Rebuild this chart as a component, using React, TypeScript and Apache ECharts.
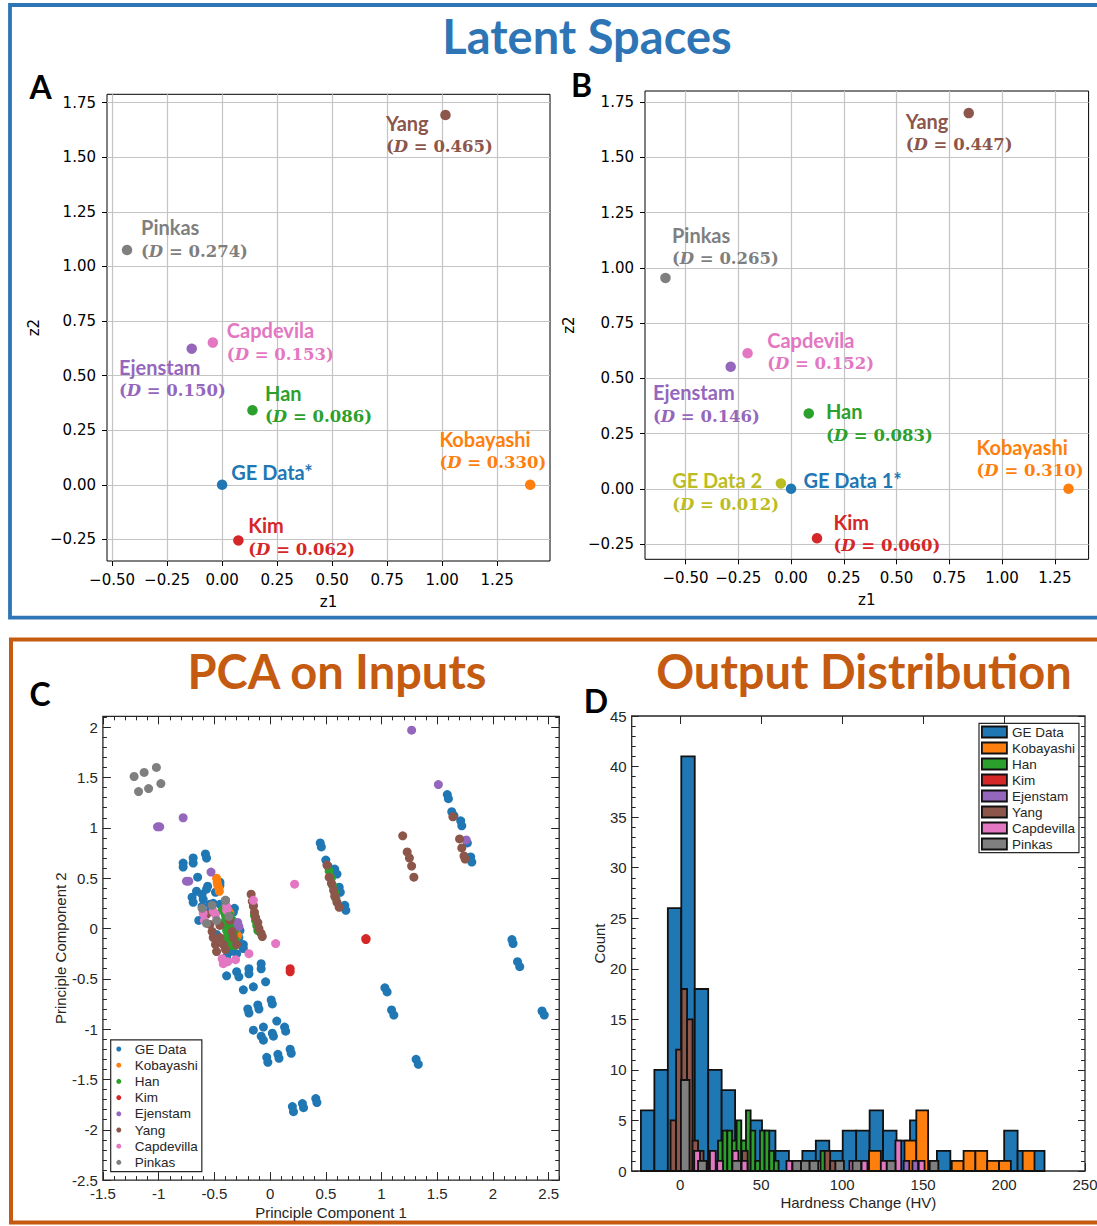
import React, { useEffect, useRef } from 'react';
import * as echarts from 'echarts';

// ---------------- Panel A / B : latent spaces ----------------
const latentNamesA = ['GE Data*', 'Kobayashi', 'Han', 'Kim', 'Ejenstam', 'Yang', 'Capdevila', 'Pinkas'];
const latentZ1A = [0.0, 1.4, 0.138, 0.074, -0.138, 1.015, -0.042, -0.432];
const latentZ2A = [0.0, 0.0, 0.341, -0.255, 0.623, 1.693, 0.651, 1.075];
const latentDistA: (number | null)[] = [null, 0.33, 0.086, 0.062, 0.15, 0.465, 0.153, 0.274];

const latentNamesB = ['GE Data 1*', 'GE Data 2', 'Kobayashi', 'Han', 'Kim', 'Ejenstam', 'Yang', 'Capdevila', 'Pinkas'];
const latentZ1B = [0.0, -0.048, 1.315, 0.084, 0.123, -0.286, 0.842, -0.206, -0.595];
const latentZ2B = [0.0, 0.024, 0.0, 0.341, -0.224, 0.552, 1.7, 0.613, 0.954];
const latentDistB: (number | null)[] = [null, 0.012, 0.31, 0.083, 0.06, 0.146, 0.447, 0.152, 0.265];

const latentTicksX = [-0.5, -0.25, 0, 0.25, 0.5, 0.75, 1, 1.25];
const latentTicksY = [-0.25, 0, 0.25, 0.5, 0.75, 1, 1.25, 1.5, 1.75];

// ---------------- Panel C : PCA on inputs ----------------
const pcaNames = ['GE Data', 'Kobayashi', 'Han', 'Kim', 'Ejenstam', 'Yang', 'Capdevilla', 'Pinkas'];
const pcaGE = [
  [-0.78, 0.65], [-0.78, 0.61], [-0.69, 0.7], [-0.69, 0.65], [-0.58, 0.74], [-0.57, 0.7], [-0.65, 0.51],
  [-0.7, 0.31], [-0.69, 0.26], [-0.66, 0.37], [-0.61, 0.34], [-0.6, 0.29], [-0.56, 0.42], [-0.57, 0.39],
  [-0.49, 0.36], [-0.45, 0.46], [-0.45, 0.43], [-0.4, 0.28], [-0.32, 0.2], [-0.33, 0.16], [-0.64, 0.08],
  [-0.61, 0.22], [-0.51, 0.25], [-0.53, 0.18], [-0.24, -0.16], [-0.24, -0.2], [-0.27, -0.02], [-0.39, -0.47],
  [-0.3, -0.43], [-0.28, -0.48], [-0.19, -0.4], [-0.19, -0.45], [-0.08, -0.35], [-0.08, -0.4], [-0.04, -0.53],
  [-0.24, -0.61], [-0.15, -0.58], [-0.2, -0.8], [-0.19, -0.84], [-0.11, -0.76], [-0.1, -0.8], [0.01, -0.71],
  [0.02, -0.75], [-0.15, -1.01], [-0.06, -0.98], [-0.08, -1.07], [-0.06, -1.11], [0.02, -1.04], [0.03, -1.07],
  [0.06, -0.92], [0.13, -0.98], [0.14, -1.02], [-0.03, -1.28], [-0.02, -1.33], [0.07, -1.25], [0.08, -1.29],
  [0.18, -1.2], [0.19, -1.24], [0.2, -1.77], [0.21, -1.82], [0.29, -1.74], [0.3, -1.78], [0.41, -1.69], [0.42, -1.73],
  [0.45, 0.85], [0.46, 0.81], [0.5, 0.68], [0.52, 0.62], [0.58, 0.59], [0.6, 0.54], [0.62, 0.41], [0.63, 0.36],
  [0.67, 0.23], [0.68, 0.18],
  [1.03, -0.59], [1.05, -0.63], [1.09, -0.81], [1.11, -0.86], [1.31, -1.3], [1.33, -1.35], [2.17, -0.11],
  [2.18, -0.15], [2.22, -0.33], [2.24, -0.38], [2.44, -0.82], [2.46, -0.86], [1.59, 1.33], [1.6, 1.29],
  [1.63, 1.16], [1.65, 1.12], [1.71, 1.07], [1.72, 1.02], [1.77, 0.85], [1.8, 0.71], [1.81, 0.66],
  [-0.54, 0.17], [-0.45, 0.24], [-0.37, 0.18], [-0.34, 0.08], [-0.28, -0.09], [-0.36, -0.23], [-0.39, -0.28],
  [-0.3, -0.25], [-0.48, -0.06], [-0.54, 0.24],
];
const pcaKobayashi = [
  [-0.48, 0.5], [-0.475, 0.46], [-0.47, 0.43], [-0.46, 0.4], [-0.455, 0.37], [-0.375, 0.18], [-0.36, 0.15],
  [-0.29, -0.07], [-0.4, 0.05], [-0.35, -0.05],
];
const pcaHan = [
  [-0.43, 0.18], [-0.4, 0.23], [-0.4, 0.13], [-0.39, 0.03], [-0.38, -0.07], [-0.37, -0.17], [-0.34, 0.08],
  [-0.32, -0.02], [-0.31, -0.12], [-0.41, 0.2], [-0.4, 0.08], [-0.39, -0.02], [-0.38, -0.12], [-0.36, 0.13],
  [-0.35, 0.03], [-0.33, -0.07], [-0.32, -0.17],
  [-0.15, 0.23], [-0.14, 0.13], [-0.12, 0.03], [-0.13, 0.08], [-0.11, -0.02],
  [0.53, 0.57], [0.55, 0.5], [0.56, 0.43], [0.58, 0.36], [0.59, 0.3],
];
const pcaKim = [[0.18, -0.4], [0.18, -0.43], [0.86, -0.11], [0.86, -0.1]];
const pcaEjenstam = [
  [1.27, 1.97], [1.51, 1.43], [-0.78, 1.1], [-1.01, 1.01], [-0.99, 1.01], [-0.75, 0.47], [-0.73, 0.47],
  [-0.53, 0.56], [-0.28, 0.02], [1.76, 0.88], [-0.29, 0.06],
];
const pcaYang = [
  [-0.17, 0.34], [-0.16, 0.27], [-0.15, 0.22], [-0.14, 0.16], [-0.13, 0.11], [-0.11, 0.06], [-0.1, 0.0],
  [-0.08, -0.05], [-0.07, -0.08],
  [0.51, 0.63], [0.53, 0.51], [0.55, 0.45], [0.57, 0.38], [0.58, 0.32], [0.6, 0.26], [0.62, 0.21],
  [1.19, 0.92], [1.23, 0.76], [1.25, 0.7], [1.27, 0.62], [1.29, 0.51],
  [1.64, 1.11], [1.7, 0.89], [1.72, 0.8], [1.74, 0.72], [1.75, 0.69],
  [-0.57, 0.14], [-0.54, 0.04], [-0.52, -0.03], [-0.51, -0.09], [-0.49, -0.16], [-0.48, -0.23], [-0.45, -0.09],
  [-0.42, -0.16], [-0.4, -0.21], [-0.36, 0.08], [-0.34, -0.03], [-0.33, -0.09], [-0.3, -0.16], [-0.45, 0.03],
];
const pcaCapdevilla = [
  [0.22, 0.44], [-0.15, 0.28], [0.05, -0.15], [-0.19, -0.25], [-0.31, -0.31], [-0.38, -0.33], [-0.42, -0.35],
  [-0.43, -0.3], [-0.59, 0.08], [-0.6, 0.15], [-0.51, 0.17], [-0.49, 0.14], [-0.39, 0.22], [-0.39, 0.18],
];
const pcaPinkas = [
  [-1.22, 1.51], [-1.13, 1.55], [-1.02, 1.6], [-1.18, 1.36], [-1.09, 1.39], [-0.98, 1.44],
  [-0.61, 0.2], [-0.52, 0.23], [-0.4, 0.28], [-0.57, 0.05], [-0.48, 0.08], [-0.37, 0.12],
];
const pcaSets = [pcaGE, pcaKobayashi, pcaHan, pcaKim, pcaEjenstam, pcaYang, pcaCapdevilla, pcaPinkas];

// ---------------- Panel D : output distribution (histograms) ----------------
const histNames = ['GE Data', 'Kobayashi', 'Han', 'Kim', 'Ejenstam', 'Yang', 'Capdevilla', 'Pinkas'];
const histGEStart = -24.3, histGEWidth = 8.31;
const histGECounts = [6, 10, 26, 41, 18, 10, 8, 3, 5, 4, 2, 0, 2, 3, 2, 4, 4, 6, 4, 3, 5, 0, 2, 0, 0, 0, 0, 4, 2, 2];
const histKobStart = 80.1, histKobWidth = 7.3;
const histKobCounts = [1, 0, 0, 0, 1, 2, 0, 0, 3, 6, 0, 0, 1, 2, 2, 1, 1, 0, 2];
const histHanStart = 23.3, histHanWidth = 2.88;
const histHanCounts = [3, 4, 4, 3, 5, 3, 6, 4, 1, 4, 4, 2, 1, 0, 0, 0, 0, 0, 0, 0, 0, 0, 2];
const histKimLefts: number[] = [];
const histKimCounts: number[] = [];
const histKimWidth = 3.5;
const histEjenLefts = [138.0, 143.4];
const histEjenCounts = [1, 1];
const histEjenWidth = 3.5;
const histYangStart = -6.0, histYangWidth = 3.4;
const histYangCounts = [5, 12, 18, 15, 3, 2, 0, 0, 0, 0, 0, 0, 0, 2, 0, 0, 0, 0, 0, 0, 0, 0, 0, 0, 0, 0, 0, 0, 2, 1];
const histCapLefts = [8.6, 18.3, 22.8, 32.3, 37.9, 65.6, 104.5, 112.0, 123.9, 132.9, 147.3];
const histCapCounts = [2, 2, 1, 2, 1, 1, 1, 1, 1, 3, 1];
const histCapWidth = 3.6;
const histPinkStart = 0.4, histPinkWidth = 5.3;
const histPinkCounts = [9, 0, 1, 0, 0, 0, 1, 0, 0, 0, 0, 0, 0, 1, 1, 1, 0, 0, 1, 0, 1, 0, 0, 0, 1, 0, 0, 0, 0, 1];
const histTicks = [0, 50, 100, 150, 200, 250];
const histTopTicks = [0, 50, 100, 150, 200];

// ---------------- styles (kept apart from the data) ----------------
const C_BLUE = '#1f77b4', C_ORANGE = '#ff7f0e', C_GREEN = '#2ca02c', C_RED = '#d62728', C_PURPLE = '#9467bd',
  C_BROWN = '#8c564b', C_PINK = '#e377c2', C_GRAY = '#7f7f7f', C_OLIVE = '#bcbd22';
const setColors = [C_BLUE, C_ORANGE, C_GREEN, C_RED, C_PURPLE, C_BROWN, C_PINK, C_GRAY];
const latentColorA = [C_BLUE, C_ORANGE, C_GREEN, C_RED, C_PURPLE, C_BROWN, C_PINK, C_GRAY];
const latentColorB = [C_BLUE, C_OLIVE, C_ORANGE, C_GREEN, C_RED, C_PURPLE, C_BROWN, C_PINK, C_GRAY];
// label placement (px from the point: left edge of text, centre of the first line)
const labelDxA = [9.2, -90.8, 12.6, 9.9, -72.8, -59.5, 14, 14];
const labelDyA = [-12.9, -46, -17.7, -15.3, 18, 7.8, -12.6, -23];
const labelDxB = [12.4, -108.7, -92, 17.2, 16.5, -77.7, -63, 19.6, 6.5];
const labelDyB = [-9, -3.4, -42.3, -2, -16.5, 25.5, 7.6, -13.8, -43];

const fmtLatent = (v: number) => {
  const s = Math.abs(v).toFixed(2);
  return v < -1e-9 ? '\u2212' + s : s;
};
const fmtMatlab = (v: number) => String(Math.round(v * 10) / 10);

function uniformBins(start: number, width: number, counts: number[]) {
  const out: number[][] = [];
  counts.forEach((c, i) => {
    if (c > 0) out.push([start + i * width, start + (i + 1) * width, c]);
  });
  return out;
}
function listedBins(lefts: number[], width: number, counts: number[]) {
  return lefts.map((l, i) => [l, l + width, counts[i]]);
}

function latentSeries(axisIdx: number, names: string[], z1: number[], z2: number[], dist: (number | null)[],
  colors: string[], dx: number[], dy: number[]) {
  const data = names.map((n, i) => {
    const c = colors[i];
    const d = dist[i];
    const text = d != null ? `{n|${n}}\n{p|(}{i|D}{p| = ${d.toFixed(3)})}` : `{n|${n}}`;
    return {
      value: [z1[i], z2[i]],
      name: n,
      itemStyle: { color: c, opacity: 1 },
      label: {
        show: true,
        position: 'inside',
        align: 'left',
        verticalAlign: 'top',
        offset: [dx[i], dy[i] - 12],
        formatter: text,
        color: c,
        rich: {
          n: { fontFamily: 'Lato', fontWeight: 'bold', fontSize: 20, lineHeight: 24, color: c },
          p: { fontFamily: 'DejaVu Serif', fontWeight: 'bold', fontSize: 16.5, lineHeight: 24, color: c },
          i: { fontFamily: 'DejaVu Serif', fontWeight: 'bold', fontStyle: 'italic', fontSize: 16.5, lineHeight: 24, color: c },
        },
      },
    };
  });
  return { type: 'scatter', xAxisIndex: axisIdx, yAxisIndex: axisIdx, symbolSize: 10.5, data, z: 3, silent: true };
}

function latentAxis(gridIndex: number, min: number, max: number, ticks: number[], name: string, nameGap: number) {
  return {
    type: 'value', gridIndex, min, max, name, nameLocation: 'middle', nameGap, nameMoveOverlap: false,
    nameTextStyle: { fontFamily: 'DejaVu Sans', fontSize: 15, color: '#000' },
    axisLine: { show: false, onZero: false },
    axisTick: { show: true, inside: false, length: 5, customValues: ticks, lineStyle: { color: '#000', width: 1 } },
    axisLabel: { show: true, customValues: ticks, margin: 11, fontFamily: 'DejaVu Sans', fontSize: 15, color: '#000', formatter: fmtLatent },
    splitLine: { show: true, lineStyle: { color: '#c4c4c4', width: 1.2 } },
  };
}

const MAT_COLOR = '#262626';
function matAxis(gridIndex: number, min: number, max: number, interval: number, opts: any) {
  return {
    type: 'value', gridIndex, min, max, interval,
    axisLine: { show: false, onZero: false },
    splitLine: { show: false },
    axisTick: { show: true, inside: true, length: opts.tickLen, lineStyle: { color: MAT_COLOR, width: 1 } },
    axisLabel: opts.labels
      ? { show: true, margin: opts.margin, fontFamily: 'Liberation Sans', fontSize: 15, color: MAT_COLOR, formatter: fmtMatlab, showMaxLabel: false }
      : { show: false },
    position: opts.position,
    name: opts.name || '',
    nameLocation: 'middle',
    nameGap: opts.nameGap || 0,
    nameMoveOverlap: false,
    nameTextStyle: { fontFamily: 'Liberation Sans', fontSize: 15, color: MAT_COLOR },
  };
}

function buildOption() {
  const gridA = { left: 107, top: 94.3, width: 443, height: 466.7 };
  const gridB = { left: 645, top: 91, width: 443.6, height: 468.3 };
  const gridC = { left: 102.9, top: 716.3, width: 456.3, height: 463.8 };
  const gridD = { left: 631.7, top: 716, width: 453.3, height: 455 };
  const gridCommon = { show: true, backgroundColor: 'transparent', containLabel: false, outerBoundsMode: 'none' };

  const xAxes: any[] = [
    latentAxis(0, -0.523, 1.49, latentTicksX, 'z1', 33),
    latentAxis(1, -0.692, 1.41, latentTicksX, 'z1', 33),
    matAxis(2, -1.5, 2.594, 0.5, { tickLen: 8, labels: true, margin: 6, position: 'bottom', name: 'Principle Component 1', nameGap: 25 }),
    matAxis(2, -1.5, 2.594, 0.1, { tickLen: 4, labels: false, position: 'bottom' }),
    matAxis(2, -1.5, 2.594, 0.5, { tickLen: 8, labels: false, position: 'top' }),
    matAxis(2, -1.5, 2.594, 0.1, { tickLen: 4, labels: false, position: 'top' }),
    {
      type: 'value', gridIndex: 3, min: -30, max: 250, position: 'bottom',
      name: 'Hardness Change (HV)', nameLocation: 'middle', nameGap: 24, nameMoveOverlap: false,
      nameTextStyle: { fontFamily: 'Liberation Sans', fontSize: 15, color: MAT_COLOR },
      axisLine: { show: false, onZero: false }, splitLine: { show: false },
      axisTick: { show: true, inside: true, length: 8, customValues: histTicks, lineStyle: { color: MAT_COLOR } },
      axisLabel: { show: true, customValues: histTicks, margin: 6, fontFamily: 'Liberation Sans', fontSize: 15, color: MAT_COLOR },
    },
    {
      type: 'value', gridIndex: 3, min: -30, max: 250, position: 'top',
      axisLine: { show: false, onZero: false }, splitLine: { show: false },
      axisTick: { show: true, inside: true, length: 8, customValues: histTopTicks, lineStyle: { color: MAT_COLOR } },
      axisLabel: { show: false },
    },
  ];
  const yAxes: any[] = [
    latentAxis(0, -0.349, 1.788, latentTicksY, 'z2', 66),
    latentAxis(1, -0.319, 1.8, latentTicksY, 'z2', 69),
    matAxis(2, -2.5, 2.108, 0.5, { tickLen: 8, labels: true, margin: 5, position: 'left', name: 'Principle Component 2', nameGap: 35 }),
    matAxis(2, -2.5, 2.108, 0.1, { tickLen: 4, labels: false, position: 'left' }),
    matAxis(2, -2.5, 2.108, 0.5, { tickLen: 8, labels: false, position: 'right' }),
    matAxis(2, -2.5, 2.108, 0.1, { tickLen: 4, labels: false, position: 'right' }),
    {
      type: 'value', gridIndex: 3, min: 0, max: 45, interval: 5, position: 'left',
      name: 'Count', nameLocation: 'middle', nameGap: 25, nameMoveOverlap: false,
      nameTextStyle: { fontFamily: 'Liberation Sans', fontSize: 15, color: MAT_COLOR },
      axisLine: { show: false, onZero: false }, splitLine: { show: false },
      axisTick: { show: true, inside: true, length: 7, lineStyle: { color: MAT_COLOR } },
      minorTick: { show: true, splitNumber: 5, length: 4, lineStyle: { color: MAT_COLOR } },
      axisLabel: { show: true, margin: 5, fontFamily: 'Liberation Sans', fontSize: 15, color: MAT_COLOR },
    },
    {
      type: 'value', gridIndex: 3, min: 0, max: 45, interval: 5, position: 'right',
      axisLine: { show: false, onZero: false }, splitLine: { show: false },
      axisTick: { show: true, inside: true, length: 7, lineStyle: { color: MAT_COLOR } },
      minorTick: { show: true, splitNumber: 5, length: 4, lineStyle: { color: MAT_COLOR } },
      axisLabel: { show: false },
    },
  ];

  const series: any[] = [
    latentSeries(0, latentNamesA, latentZ1A, latentZ2A, latentDistA, latentColorA, labelDxA, labelDyA),
    latentSeries(1, latentNamesB, latentZ1B, latentZ2B, latentDistB, latentColorB, labelDxB, labelDyB),
  ];
  pcaNames.forEach((n, i) => {
    series.push({
      type: 'scatter', name: n, xAxisIndex: 2, yAxisIndex: 2, symbolSize: 9,
      itemStyle: { color: setColors[i], opacity: 1 }, data: pcaSets[i], silent: true,
    });
  });
  const histData = [
    uniformBins(histGEStart, histGEWidth, histGECounts),
    uniformBins(histKobStart, histKobWidth, histKobCounts),
    uniformBins(histHanStart, histHanWidth, histHanCounts),
    listedBins(histKimLefts, histKimWidth, histKimCounts),
    listedBins(histEjenLefts, histEjenWidth, histEjenCounts),
    uniformBins(histYangStart, histYangWidth, histYangCounts),
    listedBins(histCapLefts, histCapWidth, histCapCounts),
    uniformBins(histPinkStart, histPinkWidth, histPinkCounts),
  ];
  histNames.forEach((n, i) => {
    const color = setColors[i];
    series.push({
      type: 'custom', name: n, xAxisIndex: 6, yAxisIndex: 6, silent: true,
      itemStyle: { color },
      encode: { x: [0, 1], y: 2 },
      data: histData[i],
      renderItem: (params: any, api: any) => {
        const p0 = api.coord([api.value(0), api.value(2)]);
        const p1 = api.coord([api.value(1), 0]);
        return {
          type: 'rect',
          shape: { x: p0[0], y: p0[1], width: p1[0] - p0[0], height: p1[1] - p0[1] },
          style: { fill: color, stroke: '#111', lineWidth: 1.8 },
        };
      },
    });
  });

  const legendText = { fontFamily: 'Liberation Sans', fontSize: 13.5, color: MAT_COLOR, lineHeight: 14 };
  const legends = [
    {
      orient: 'vertical', left: 110.7, top: 1039.8, padding: [2.2, 4, 2.2, 5.6], itemGap: 2.2,
      itemWidth: 22, itemHeight: 5, icon: 'circle', selectedMode: false,
      data: pcaNames.map((n, i) => ({ name: n, itemStyle: { color: setColors[i], opacity: 1 } })),
      textStyle: legendText,
      borderColor: MAT_COLOR, borderWidth: 1.2, backgroundColor: '#fff',
    },
    {
      orient: 'vertical', left: 979, top: 723.3, padding: [1.7, 4, 1.7, 2], itemGap: 2,
      itemWidth: 25, itemHeight: 11, icon: 'rect', selectedMode: false,
      data: histNames.map((n, i) => ({ name: n, itemStyle: { color: setColors[i], opacity: 1, borderColor: '#111', borderWidth: 1.8 } })),
      textStyle: legendText,
      borderColor: MAT_COLOR, borderWidth: 1.2, backgroundColor: '#fff',
    },
  ];

  const titleFont = 'bold 47px Lato';
  const letterFont = 'bold 32px Lato';
  const graphic: any[] = [
    { type: 'rect', z: -10, shape: { x: 10, y: 5, width: 1100, height: 612.7 }, style: { fill: 'none', stroke: '#2E75B6', lineWidth: 3.8 } },
    { type: 'rect', z: -10, shape: { x: 11, y: 639.5, width: 1100, height: 583 }, style: { fill: 'none', stroke: '#C55A11', lineWidth: 4 } },
    { type: 'text', x: 587, y: 36, style: { text: 'Latent Spaces', font: titleFont, fill: '#2E75B6', align: 'center', verticalAlign: 'middle' } },
    { type: 'text', x: 337, y: 671, style: { text: 'PCA on Inputs', font: titleFont, fill: '#C55A11', align: 'center', verticalAlign: 'middle' } },
    { type: 'text', x: 864, y: 671, style: { text: 'Output Distribution', font: titleFont, fill: '#C55A11', align: 'center', verticalAlign: 'middle' } },
    { type: 'text', x: 29.5, y: 86, style: { text: 'A', font: letterFont, fill: '#000', align: 'left', verticalAlign: 'middle' } },
    { type: 'text', x: 571, y: 84.2, style: { text: 'B', font: letterFont, fill: '#000', align: 'left', verticalAlign: 'middle' } },
    { type: 'text', x: 29.5, y: 693.4, style: { text: 'C', font: letterFont, fill: '#000', align: 'left', verticalAlign: 'middle' } },
    { type: 'text', x: 583.7, y: 700, style: { text: 'D', font: letterFont, fill: '#000', align: 'left', verticalAlign: 'middle' } },
  ];

  return {
    animation: false,
    backgroundColor: '#fff',
    textStyle: { fontFamily: 'Liberation Sans' },
    grid: [
      { ...gridCommon, ...gridA, borderColor: '#000', borderWidth: 1 },
      { ...gridCommon, ...gridB, borderColor: '#000', borderWidth: 1 },
      { ...gridCommon, ...gridC, borderColor: MAT_COLOR, borderWidth: 1.3 },
      { ...gridCommon, ...gridD, borderColor: MAT_COLOR, borderWidth: 1.3 },
    ],
    xAxis: xAxes,
    yAxis: yAxes,
    legend: legends,
    series,
    graphic,
  };
}

export default function App() {
  const ref = useRef<HTMLDivElement>(null);
  useEffect(() => {
    if (!ref.current) return;
    const chart = echarts.init(ref.current, null, { renderer: 'svg', width: 1097, height: 1226 });
    chart.setOption(buildOption() as any);
    return () => chart.dispose();
  }, []);
  return (
    <div
      ref={ref}
      style={{ position: 'absolute', left: 0, top: 0, width: 1097, height: 1226, background: '#fff' }}
    />
  );
}
